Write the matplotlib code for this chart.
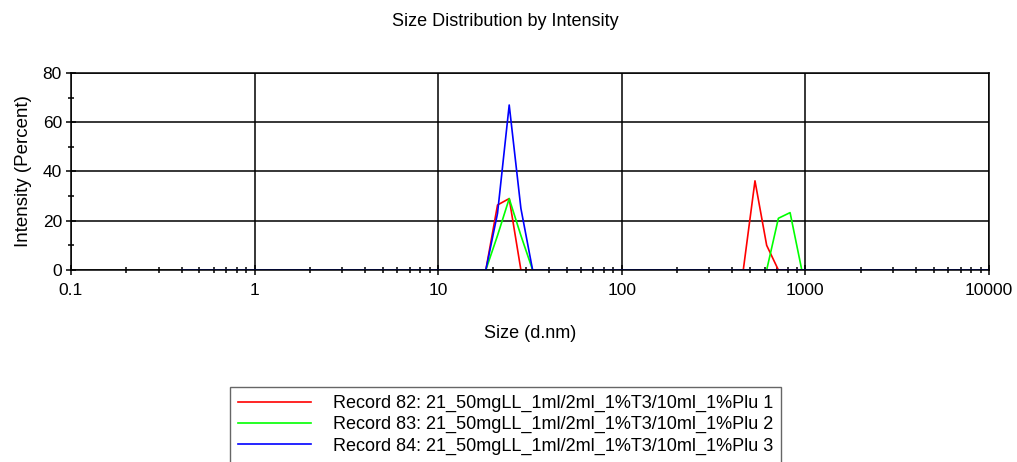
"""Size distribution by intensity, three DLS records on a log size axis."""
import matplotlib
matplotlib.use("Agg")
import matplotlib.pyplot as plt
import numpy as np

plt.rcParams['font.family'] = ['Liberation Sans', 'DejaVu Sans']

# size classes (d.nm)
sizes = [0.4, 0.4632, 0.5365, 0.6213, 0.7195, 0.8332, 0.9649, 1.117, 1.294,
         1.499, 1.736, 2.01, 2.328, 2.696, 3.122, 3.615, 4.187, 4.849, 5.615,
         6.503, 7.531, 8.721, 10.1, 11.7, 13.54, 15.69, 18.17, 21.04, 24.36,
         28.21, 32.67, 37.84, 43.82, 50.75, 58.77, 68.06, 78.82, 91.28, 105.7,
         122.4, 141.8, 164.2, 190.1, 220.2, 255.0, 295.3, 342.0, 396.1, 458.7,
         531.2, 615.1, 712.4, 825.0, 955.4, 1106, 1281, 1484, 1718, 1990, 2305,
         2669, 3091, 3580, 4145, 4801, 5560, 6439, 7456, 8635, 10000]

# non-zero intensity classes for each record (size: percent)
peaks_82 = {21.04: 26.4, 24.36: 29.0, 531.2: 36.2, 615.1: 10.0}
peaks_83 = {21.04: 14.0, 24.36: 29.0, 28.21: 14.0, 712.4: 21.0, 825.0: 23.3}
peaks_84 = {21.04: 23.0, 24.36: 67.0, 28.21: 25.0}

labels = ["Record 82: 21_50mgLL_1ml/2ml_1%T3/10ml_1%Plu 1",
          "Record 83: 21_50mgLL_1ml/2ml_1%T3/10ml_1%Plu 2",
          "Record 84: 21_50mgLL_1ml/2ml_1%T3/10ml_1%Plu 3"]
colors = ['#ff0000', '#00ff00', '#0000ff']

x_ticks = [0.1, 1, 10, 100, 1000, 10000]
x_tick_labels = ["0.1", "1", "10", "100", "1000", "10000"]
y_ticks = [0, 20, 40, 60, 80]


def record_values(peaks):
    """Full intensity list over all size classes."""
    return [peaks.get(s, 0.0) for s in sizes]


fig = plt.figure(figsize=(10.17, 4.62), dpi=100)
ax = fig.add_axes([0.0698, 0.4156, 0.9027, 0.4264])

for peaks, lab, col in zip([peaks_82, peaks_83, peaks_84], labels, colors):
    ax.plot(sizes, record_values(peaks), color=col, linewidth=1.2, label=lab)

ax.set_xscale('log')
ax.set_xlim(0.1, 10000)
ax.set_ylim(0, 80)
ax.set_xticks(x_ticks)
ax.set_xticklabels(x_tick_labels)
ax.set_yticks(y_ticks)
ax.set_yticks([10, 30, 50, 70], minor=True)
ax.xaxis.set_minor_locator(matplotlib.ticker.LogLocator(base=10, subs=np.arange(2, 10)))
ax.xaxis.set_minor_formatter(matplotlib.ticker.NullFormatter())

ax.grid(True, which='major', color='black', linewidth=1.1)
ax.set_axisbelow(True)
for sp in ax.spines.values():
    sp.set_color('black')
    sp.set_linewidth(1.1)

ax.tick_params(axis='both', which='major', direction='inout', length=7,
               width=1.1, labelsize=12.5, colors='black')
ax.tick_params(axis='both', which='minor', direction='inout', length=5,
               width=1.1)
ax.tick_params(axis='x', pad=6)
ax.tick_params(axis='y', pad=3)

ax.set_xlabel("Size (d.nm)", fontsize=13, labelpad=19)
ax.set_ylabel("Intensity (Percent)", fontsize=13.5, labelpad=8)
fig.text(0.497, 0.954, "Size Distribution by Intensity", ha='center',
         va='center', fontsize=13)

leg = fig.legend(loc='upper left', bbox_to_anchor=(0.226, 0.1623),
                 bbox_transform=fig.transFigure, fontsize=13,
                 handlelength=4.05, handletextpad=1.2, borderpad=0.45,
                 borderaxespad=0, labelspacing=0.22, fancybox=False,
                 frameon=True)
leg.get_frame().set_edgecolor('#404040')
leg.get_frame().set_linewidth(1.0)

fig.savefig("out.png", dpi=100)
